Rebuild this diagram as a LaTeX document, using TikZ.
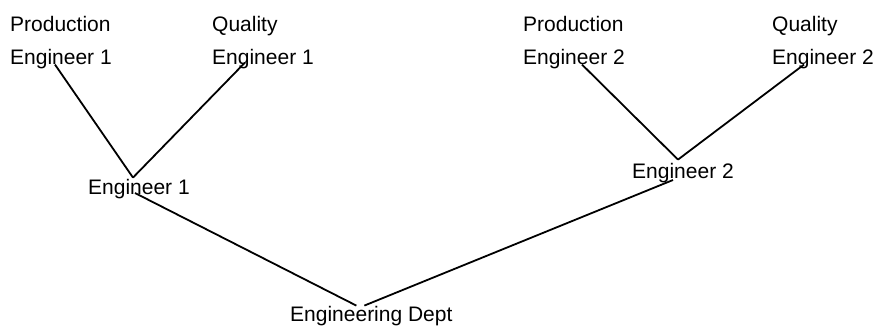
\documentclass[tikz,border=0pt]{standalone}
\usepackage{fontspec}
\setmainfont{Liberation Sans}
\begin{document}
\begin{tikzpicture}[x=1bp,y=-1bp,
  lbl/.style={inner sep=0pt, align=left, anchor=base west,
    font=\fontsize{21bp}{33bp}\selectfont},
  link/.style={line width=1.8bp, black}]
\useasboundingbox (0,0) rectangle (878,327);
% leaf roles (anchored at the baseline of their last line)
\node[lbl] (pe1) at (10,64) {Production\\Engineer 1};
\node[lbl] (qe1) at (212,64) {Quality\\Engineer 1};
\node[lbl] (pe2) at (523,64) {Production\\Engineer 2};
\node[lbl] (qe2) at (772,64) {Quality\\Engineer 2};
% engineers
\node[lbl] (e1) at (88,194) {Engineer 1};
\node[lbl] (e2) at (632,178) {Engineer 2};
% department
\node[lbl] (dept) at (290,321) {Engineering Dept};
% reporting lines
\draw[link] ([xshift=-6bp,yshift=4bp]pe1.south) -- ([xshift=-6bp,yshift=1bp]e1.north);
\draw[link] ([xshift=-18bp,yshift=6bp]qe1.south) -- ([xshift=-6bp,yshift=1bp]e1.north);
\draw[link] ([xshift=8bp,yshift=4bp]pe2.south) -- ([xshift=-5bp,yshift=3bp]e2.north);
\draw[link] ([xshift=-19bp,yshift=4bp]qe2.south) -- ([xshift=-5bp,yshift=3bp]e2.north);
\draw[link] ([xshift=-4bp,yshift=1bp]e1.base) -- ([xshift=-15bp]dept.north);
\draw[link] ([xshift=-10bp,yshift=-2bp]e2.base) -- ([xshift=-7bp]dept.north);
\end{tikzpicture}
\end{document}
